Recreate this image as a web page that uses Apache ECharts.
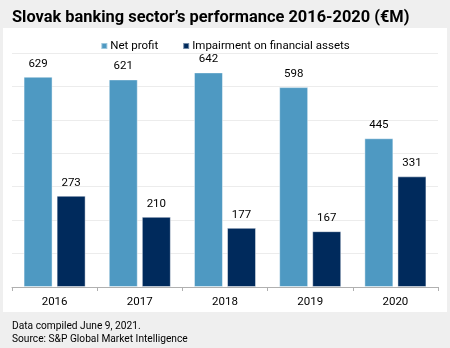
<!DOCTYPE html>
<html><head><meta charset="utf-8">
<script src="https://cdn.jsdelivr.net/npm/echarts@6/dist/echarts.min.js"></script>
<style>
html,body{margin:0;padding:0;background:#efefef;}
#panel{position:absolute;left:3px;top:28px;width:444px;height:284px;background:#fff;}
#chart{position:absolute;left:0;top:0;width:450px;height:348px;}
</style></head>
<body>
<div id="panel"></div>
<div id="chart"></div>
<script>
const categories = ['2016','2017','2018','2019','2020'];
const netProfit = [629, 621, 642, 598, 445];
const impairment = [273, 210, 177, 167, 331];
const seriesNames = ['Net profit', 'Impairment on financial assets'];
const titleText = 'Slovak banking sector\u2019s performance 2016-2020 (\u20acM)';
const footer1 = 'Data compiled June 9, 2021.';
const footer2 = 'Source: S&P Global Market Intelligence';

const chart = echarts.init(document.getElementById('chart'), null, {renderer:'canvas'});
const font = 'Roboto, "Liberation Sans", sans-serif';
chart.setOption({
  backgroundColor: 'transparent',
  animation: false,
  title: [
    {text: titleText, left: 7, top: 5, textStyle:{fontFamily: font, fontSize: 16.4, fontWeight: 'bold', color:'#000'}},
    {text: footer1 + '\n' + footer2, left: 7, top: 315, textStyle:{fontFamily: font, fontSize: 10.2, fontWeight:'normal', color:'#000', lineHeight: 13}}
  ],
  legend: {
    top: 35, left: 'center', itemWidth: 6, itemHeight: 6, itemGap: 24,
    icon: 'rect',
    textStyle: {fontFamily: font, fontSize: 11.5, color:'#000', padding:[0,0,0,-2]},
    data: seriesNames
  },
  grid: {left: 12, right: 12, top: 53, bottom: 61, containLabel: false},
  xAxis: {
    type: 'category', data: categories,
    axisLine: {lineStyle:{color:'#b0b0b0'}},
    axisTick: {show:true, length:4, lineStyle:{color:'#b0b0b0'}},
    axisLabel: {fontFamily: font, fontSize: 11.5, color:'#000', margin: 9}
  },
  yAxis: {
    type: 'value', min: 0, max: 700, interval: 100,
    axisLabel: {show:false}, axisLine:{show:false}, axisTick:{show:false},
    splitLine: {lineStyle:{color:'#ececec'}}
  },
  series: [
    {name: seriesNames[0], type:'bar', data: netProfit, barWidth: 29, barGap: '14%',
     itemStyle:{color:'#4e99c2', borderColor:'rgba(255,255,255,0.45)', borderWidth:1},
     label:{show:true, position:'top', distance: 7, fontFamily: font, fontSize: 11.5, color:'#000'}},
    {name: seriesNames[1], type:'bar', data: impairment, barWidth: 29,
     itemStyle:{color:'#002a5c', borderColor:'rgba(255,255,255,0.45)', borderWidth:1},
     label:{show:true, position:'top', distance: 7, fontFamily: font, fontSize: 11.5, color:'#000'}}
  ]
});
</script>
</body></html>
